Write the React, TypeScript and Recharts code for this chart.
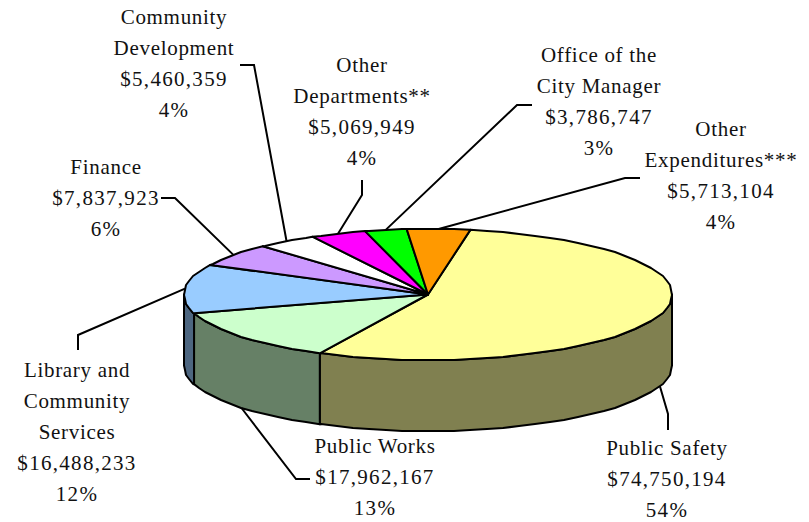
import { Pie, PieChart } from 'recharts'

const categories = [
  'Public Safety',
  'Public Works',
  'Library and Community Services',
  'Finance',
  'Community Development',
  'Other Departments**',
  'Office of the City Manager',
  'Other Expenditures***'
]
const nameLines = [
  ['Public Safety'],
  ['Public Works'],
  ['Library and', 'Community', 'Services'],
  ['Finance'],
  ['Community', 'Development'],
  ['Other', 'Departments**'],
  ['Office of the', 'City Manager'],
  ['Other', 'Expenditures***']
]
const amounts = [74750194, 17962167, 16488233, 7837923, 5460359, 5069949, 3786747, 5713104]
const shares = ['54%', '13%', '12%', '6%', '4%', '4%', '3%', '4%']
const fills = ['#FFFF99', '#CCFFCC', '#99CCFF', '#CC99FF', '#FFFFFF', '#FF00FF', '#00FF00', '#FF9900']
const walls = ['#808050', '#668066', '#4D6680', '#664D80', '#808080', '#800080', '#008000', '#804D00']

// where each label sits and how its leader bends, by slice
const labelLayout = [
  { x: 667, y: 448, bend: [[668, 430], [668, 414]] },
  { x: 375, y: 446, bend: [[310, 479], [296, 479]] },
  { x: 77, y: 370, bend: [[78, 350], [78, 335]] },
  { x: 106, y: 167, bend: [[161, 198], [175, 198]] },
  { x: 174, y: 17, bend: [[240, 65], [254, 65]] },
  { x: 362, y: 65, bend: [[362, 180], [362, 195]] },
  { x: 599, y: 55, bend: [[532, 105], [517, 105]] },
  { x: 721, y: 129, bend: [[640, 178], [625, 178]] }
]

const tableData = categories.map((name, i) => ({ name, value: amounts[i], fill: fills[i] }))

const squash = 0.269
const depth = 71
const lineHeight = 31

// recharts angles are counter-clockwise from 3 o'clock, the disc is flattened in y
function onRim(cx: number, cy: number, r: number, deg: number) {
  const rad = (deg * Math.PI) / 180
  return [cx + r * Math.cos(rad), cy - r * squash * Math.sin(rad)]
}

// rim as short snapped segments, the original has a slightly faceted outline
function rimPoints(cx: number, cy: number, r: number, from: number, to: number) {
  const pts = [onRim(cx, cy, r, from)]
  for (let a = Math.ceil(from / 4) * 4 - 4; a > to; a -= 4) {
    const [x, y] = onRim(cx, cy, r, a)
    pts.push([Math.round(x), Math.round(y)])
  }
  pts.push(onRim(cx, cy, r, to))
  return pts
}

const toPath = (pts: number[][]) => pts.map(p => `${p[0]},${p[1]}`).join(' L')

function Slice(props: any) {
  const { cx, cy, outerRadius: r, startAngle, endAngle, fill, index } = props

  // only the front half of the rim has a visible wall: 0 to -180
  const from = Math.min(startAngle, 0)
  const to = Math.max(endAngle, -180)
  let wall = null
  if (from > to) {
    const upper = rimPoints(cx, cy, r, from, to)
    const lower = upper.map(p => [p[0], p[1] + depth]).reverse()
    wall = (
      <path
        d={`M${toPath([...upper, ...lower])} Z`}
        fill={walls[index]}
        stroke="#000"
        strokeWidth={2}
        strokeLinejoin="round"
      />
    )
  }

  return (
    <g>
      {wall}
      <path
        d={`M${cx},${cy} L${toPath(rimPoints(cx, cy, r, startAngle, endAngle))} Z`}
        fill={fill}
        stroke="#000"
        strokeWidth={2}
        strokeLinejoin="round"
      />
    </g>
  )
}

function SliceLabel(props: any) {
  const { cx, cy, outerRadius: r, midAngle, index } = props
  const layout = labelLayout[index]
  const [ex, ey] = onRim(cx, cy, r, midAngle)
  const front = Math.sin((midAngle * Math.PI) / 180) < -0.3
  const points = [...layout.bend, [ex, ey + (front ? depth : 0)]].map(p => p.join(',')).join(' ')
  const names = nameLines[index]
  const lines = [...names, `$${amounts[index].toLocaleString('en-US')}`, shares[index]]

  return (
    <g>
      <polyline points={points} fill="none" stroke="#000" strokeWidth={2} />
      {lines.map((line, i) => (
        <text
          key={line}
          x={layout.x}
          y={layout.y + i * lineHeight}
          dy={7}
          textAnchor="middle"
          fill="#111"
          fontFamily="'Liberation Serif', serif"
          fontSize={21}
          letterSpacing={i < names.length ? 0.7 : 1.3}
        >
          {line}
        </text>
      ))}
    </g>
  )
}

export default function App() {
  return (
    <div style={{ position: 'absolute', left: 0, top: 0, width: 809, height: 522, background: '#fff' }}>
      <PieChart width={809} height={522} margin={{ top: 0, right: 0, bottom: 0, left: 0 }}>
        <Pie
          data={tableData}
          dataKey="value"
          nameKey="name"
          cx={428}
          cy={294.5}
          innerRadius={0}
          outerRadius={244}
          startAngle={80}
          endAngle={-280}
          stroke="#000"
          shape={Slice}
          label={SliceLabel}
          labelLine={false}
          isAnimationActive={false}
        />
      </PieChart>
    </div>
  )
}
